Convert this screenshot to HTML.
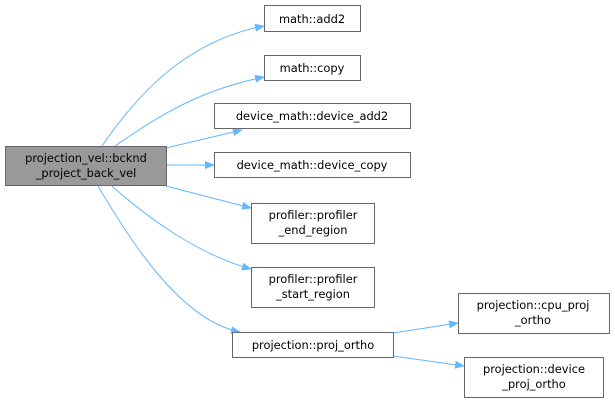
<!DOCTYPE html>
<html><head><style>body{margin:0;background:#fff}svg{display:block}text{font-family:"DejaVu Sans","Liberation Sans",sans-serif;font-size:11.4px;fill:#000}</style></head><body>
<svg width="615" height="402" viewBox="0 0 615 402" xmlns="http://www.w3.org/2000/svg">
<defs><marker id="a" markerWidth="10" markerHeight="8" refX="9" refY="4" orient="auto" markerUnits="userSpaceOnUse"><path d="M0,0 L10,4 L0,8 z" fill="#63b8ff"/></marker></defs>
<g fill="none" stroke="#63b8ff" stroke-width="1" marker-end="url(#a)">
<path d="M102,146 C140,90 190,40 264,26"/>
<path d="M115,146 C160,115 200,90 264,77"/>
<path d="M166,148 L242,130"/>
<path d="M166,165 L214,165"/>
<path d="M166,186 L251,208"/>
<path d="M112,186 C150,220 200,255 251,269"/>
<path d="M98,186 C130,240 180,320 240,332"/>
<path d="M393,333 L458,323"/>
<path d="M393,356 L464,366"/>
</g>
<g stroke="#666" stroke-width="1">
<rect x="5.5" y="146.5" width="161" height="39" fill="#999"/>
<rect x="264.5" y="5.5" width="96" height="26" fill="#fff"/>
<rect x="264.5" y="55.5" width="96" height="25" fill="#fff"/>
<rect x="214.5" y="103.5" width="196" height="25" fill="#fff"/>
<rect x="214.5" y="152.5" width="196" height="25" fill="#fff"/>
<rect x="251.5" y="203.5" width="123" height="40" fill="#fff"/>
<rect x="251.5" y="267.5" width="123" height="40" fill="#fff"/>
<rect x="232.5" y="332.5" width="161" height="25" fill="#fff"/>
<rect x="458.5" y="293.5" width="151" height="40" fill="#fff"/>
<rect x="464.5" y="357.5" width="139" height="40" fill="#fff"/>
</g>
<g text-anchor="middle">
<text x="86" y="162">projection_vel::bcknd</text><text x="86" y="177">_project_back_vel</text>
<text x="312" y="23">math::add2</text>
<text x="312" y="72">math::copy</text>
<text x="312" y="120">device_math::device_add2</text>
<text x="312" y="169">device_math::device_copy</text>
<text x="313" y="219">profiler::profiler</text><text x="313" y="234">_end_region</text>
<text x="313" y="283">profiler::profiler</text><text x="313" y="298">_start_region</text>
<text x="313" y="349">projection::proj_ortho</text>
<text x="533" y="309">projection::cpu_proj</text><text x="533" y="324">_ortho</text>
<text x="534" y="373">projection::device</text><text x="534" y="388">_proj_ortho</text>
</g>
</svg>
</body></html>
